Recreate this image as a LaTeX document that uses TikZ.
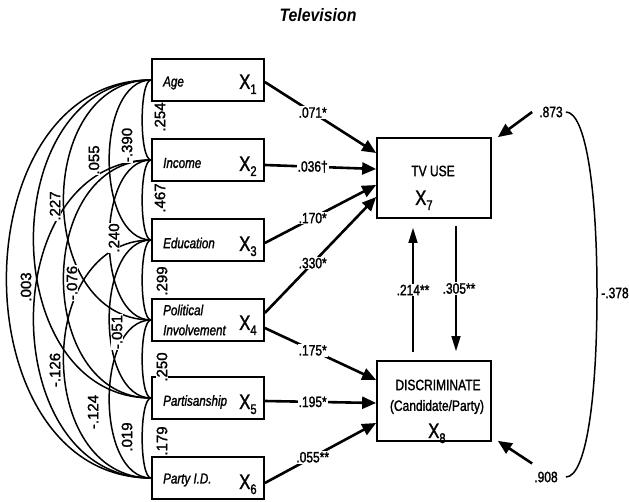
\documentclass[tikz,border=0pt]{standalone}
\usepackage{fontspec}
\setmainfont{Liberation Sans}
\newfontfamily\cf[FakeStretch=0.8,FakeBold=1.5]{Liberation Sans}
\newfontfamily\rf[FakeBold=1.5]{Liberation Sans}
\newfontfamily\tf[FakeStretch=0.88]{Liberation Sans}
\usetikzlibrary{arrows.meta,calc}
\newcommand\Xsub[1]{{\fontsize{21}{21}\selectfont X}\raisebox{-5pt}{\fontsize{14}{14}\selectfont #1}}
\newcommand\carc[3]{\draw[corr] (#1.west) .. controls +(-#3,0) and +(-#3,0) .. (#2.west);}
\begin{document}
\begin{tikzpicture}[x=1pt,y=-1pt,
  box/.style={draw,line width=1.7pt,minimum width=112pt,minimum height=42pt,inner sep=0pt},
  bigbox/.style={draw,line width=1.7pt,minimum width=114pt,minimum height=80pt,inner sep=0pt},
  vname/.style={anchor=west,inner sep=0pt,font=\cf\itshape\fontsize{14.5}{20}\selectfont,align=left},
  xlab/.style={anchor=base west,inner sep=0pt,font=\cf},
  corr/.style={line width=1.5pt},
  arr/.style={line width=2.6pt,-{Triangle[length=14pt,width=12pt]}},
  varr/.style={line width=1.4pt,-{Triangle[length=15pt,width=9pt]}},
  coef/.style={fill=white,inner sep=1pt,font=\cf\fontsize{15}{15}\selectfont},
  rlab/.style={rotate=90,fill=white,inner sep=0.6pt,font=\rf\fontsize{15}{15}\selectfont},
  txt/.style={inner sep=0pt,font=\cf\fontsize{15}{15}\selectfont}
]
\useasboundingbox (0,0) rectangle (629,502);

\node[font=\tf\bfseries\itshape\fontsize{18}{18}\selectfont] (title) at (318,15) {Television};

% exogenous boxes
\node[box] (b1) at (208,80) {};
\node[box] (b2) at (208,160) {};
\node[box] (b3) at (208,240) {};
\node[box] (b4) at (208,320) {};
\node[box] (b5) at (208,398) {};
\node[box] (b6) at (208,478) {};

\node[vname] (n1) at (163,83) {Age};
\node[vname] (n2) at (163,163) {Income};
\node[vname] (n3) at (163,243) {Education};
\node[vname] (n4) at (163,320) {Political\\Involvement};
\node[vname] (n5) at (163,402) {Partisanship};
\node[vname] (n6) at (163,480) {Party I.D.};

\node[xlab] (x1l) at (239,89) {\Xsub{1}};
\node[xlab] (x2l) at (239,171) {\Xsub{2}};
\node[xlab] (x3l) at (239,251) {\Xsub{3}};
\node[xlab] (x4l) at (239,330) {\Xsub{4}};
\node[xlab] (x5l) at (239,409) {\Xsub{5}};
\node[xlab] (x6l) at (239,489) {\Xsub{6}};

% endogenous boxes
\node[bigbox] (x7) at (434,178) {};
\node[bigbox] (x8) at (434,401) {};
\node[txt] (tv) at (433,171) {TV USE};
\node[xlab] (x7l) at (415,205) {\Xsub{7}};
\node[txt] (d1) at (438,385) {DISCRIMINATE};
\node[txt] (d2) at (437,407) {(Candidate/Party)};
\node[xlab] (x8l) at (428,438) {\Xsub{8}};

% paths
\draw[arr] ([yshift=-2pt]b1.east) -- node[coef,pos=.43]{.071*} ([yshift=25pt]x7.west);
\draw[arr] ([yshift=-5pt]b2.east) -- node[coef,pos=.43]{.036\textdagger} ([yshift=9pt]x7.west);
\draw[arr] ([yshift=-3pt]b3.east) -- node[coef,pos=.43]{.170*} ([yshift=-7pt]x7.west);
\draw[arr] ([yshift=7pt]b4.east) -- node[coef,pos=.43]{.330*} ([yshift=-19pt]x7.west);
\draw[arr] ([yshift=-8pt]b4.east) -- node[coef,pos=.43]{.175*} ([yshift=21pt]x8.west);
\draw[arr] ([yshift=-3pt]b5.east) -- node[coef,pos=.43]{.195*} ([yshift=-2pt]x8.west);
\draw[arr] ([yshift=-5pt]b6.east) -- node[coef,pos=.43]{.055**} ([yshift=-22pt]x8.west);

\draw[varr] ([xshift=-21pt,yshift=8pt]x8.north) -- node[coef]{.214**} ([xshift=-21pt,yshift=-9pt]x7.south);
\draw[varr] ([xshift=22pt,yshift=-7pt]x7.south) -- node[coef,xshift=3pt]{.305**} ([xshift=22pt,yshift=9pt]x8.north);

% disturbances
\node[txt] (e1) at (551,112) {.873};
\node[txt] (e2) at (546,477) {.908};
\draw[arr] ([xshift=-7pt]e1.west) -- ([xshift=6pt]x7.north east);
\draw[arr] ([shift={(-2pt,8pt)}]e2.north west) -- ([shift={(6pt,1pt)}]x8.south east);
\coordinate (r) at (597,293);
\draw[corr] ([xshift=3pt]e1.east) .. controls +(20,0) and (597,190) .. (r) .. controls (597,400) and +(20,0) .. ([xshift=8pt]e2.east);
\node[txt] (cr) at (615,293) {-.378};

% correlations among exogenous variables
\carc{b1}{b2}{12}
\carc{b2}{b3}{12}
\carc{b3}{b4}{12}
\carc{b4}{b5}{12}
\carc{b5}{b6}{12}
\carc{b1}{b3}{56}
\carc{b2}{b4}{56}
\carc{b3}{b5}{56}
\carc{b4}{b6}{56}
\carc{b1}{b4}{117}
\carc{b2}{b5}{117}
\carc{b3}{b6}{117}
\carc{b1}{b5}{157}
\carc{b2}{b6}{157}
\carc{b1}{b6}{193}

\node[rlab] (c12) at (160,117) {.254};
\node[rlab] (c23) at (160,198) {.467};
\node[rlab] (c34) at (162,281) {.299};
\node[rlab] (c45) at (162,367) {.250};
\node[rlab] (c56) at (162,441) {.179};
\node[rlab] (c13) at (127,145) {-.390};
\node[rlab] (c14) at (94,160) {.055};
\node[rlab] (c15) at (55,206) {.227};
\node[rlab] (c16) at (26,287) {.003};
\node[rlab] (c24) at (114,238) {.240};
\node[rlab] (c25) at (72,283) {-.076};
\node[rlab] (c26) at (55,370) {-.126};
\node[rlab] (c35) at (117,332) {-.051};
\node[rlab] (c36) at (93,412) {-.124};
\node[rlab] (c46) at (127,437) {.019};
\end{tikzpicture}
\end{document}
